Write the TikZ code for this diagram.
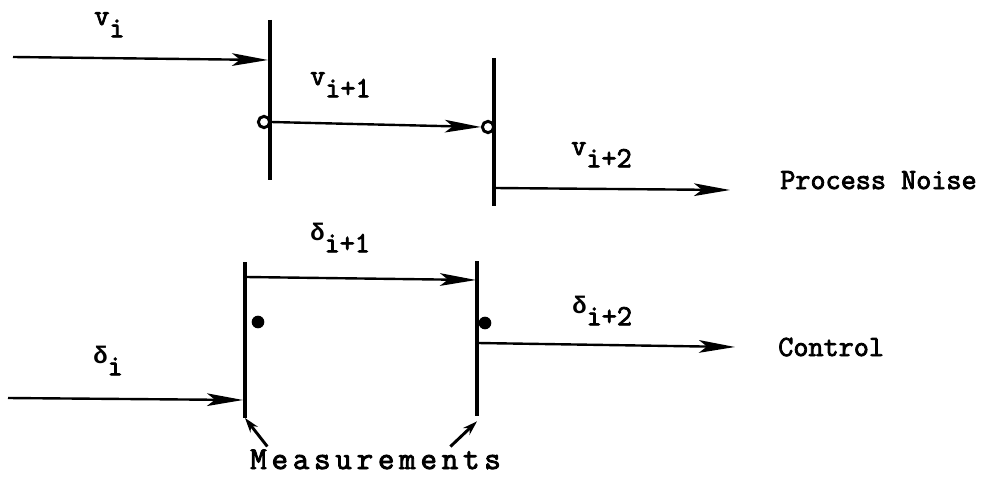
\documentclass[tikz,border=0pt]{standalone}
\usepackage{fontspec}
\newfontfamily\typer[FakeBold=2.8]{Latin Modern Mono}
\newfontfamily\typerwide[FakeBold=2.8,LetterSpace=15]{Latin Modern Mono}
\newfontfamily\greek{Liberation Mono}
\usetikzlibrary{
    arrows.meta,
    positioning
}
\newcommand{\dlt}{{\greek\bfseries\fontsize{18}{20}\selectfont δ}}

\begin{document}
\begin{tikzpicture}[
        x=0.75pt, y=-0.75pt,
        txt/.style={
            font=\typer\fontsize{22}{24}\selectfont,
            inner sep=0pt,
            anchor=base west
        },
        bar/.style={
            line width=3pt
        },
        line/.style={
            -{Stealth[length=27pt,width=9.5pt,inset=6pt]},
            line width=1.8pt
        },
        pointer/.style={
            -{Stealth[length=11pt,width=7pt]},
            line width=2.2pt
        },
        ring/.style={
            circle,
            draw,
            fill=white,
            line width=2.2pt,
            inner sep=0pt,
            minimum size=8.5pt
        },
        dot/.style={
            circle,
            fill,
            inner sep=0pt,
            minimum size=9.5pt
        }
    ]

    \useasboundingbox (0,0) rectangle (987,478);

    % measurement bars
    \coordinate (b1t) at (270,20);
    \coordinate (b1b) at (270,180);
    \coordinate (b2t) at (494,58);
    \coordinate (b2b) at (494,206);
    \coordinate (b3t) at (245,262);
    \coordinate (b3b) at (245,418);
    \coordinate (b4t) at (477,261);
    \coordinate (b4b) at (477,416);
    \draw[bar] (b1t) -- (b1b);
    \draw[bar] (b2t) -- (b2b);
    \draw[bar] (b3t) -- (b3b);
    \draw[bar] (b4t) -- (b4b);

    % process noise
    \coordinate (vin) at (13,57);
    \coordinate (vhit) at (268,60);
    \node[ring] (r1) at (264,122) {};
    \node[ring] (r2) at (488,127) {};
    \coordinate (vout) at (495,188);
    \coordinate (vend) at (730,190);

    \draw[line] (vin) -- (vhit);
    \draw[line] (r1.east) -- (r2.west);
    \draw[line] (vout) -- (vend);

    \node[txt] (vi) at (94,25) {v\raisebox{-0.42em}{i}};
    \node[txt] (vi1) at (310,85) {v\raisebox{-0.42em}{i+1}};
    \node[txt] (vi2) at (571,155) {v\raisebox{-0.42em}{i+2}};
    \node[txt] (noise) at (780,189) {Process Noise};

    % control
    \coordinate (din) at (8,398);
    \coordinate (dhit) at (243,400);
    \coordinate (dmid) at (246,277);
    \coordinate (dmhit) at (476,280);
    \coordinate (dout) at (478,343);
    \coordinate (dend) at (735,347);
    \node[dot] (d1) at (258,322) {};
    \node[dot] (d2) at (485,323) {};

    \draw[line] (din) -- (dhit);
    \draw[line] (dmid) -- (dmhit);
    \draw[line] (dout) -- (dend);

    \node[txt] (di) at (93,363) {\dlt\raisebox{-0.42em}{i}};
    \node[txt] (di1) at (310,240) {\dlt\raisebox{-0.42em}{i+1}};
    \node[txt] (di2) at (572,313) {\dlt\raisebox{-0.42em}{i+2}};
    \node[txt] (ctrl) at (778,356) {Control};

    % measurements
    \node[txt, font=\typerwide\fontsize{24}{26}\selectfont]
        (meas) at (250,469) {Measurements};
    \draw[pointer] ([xshift=13pt,yshift=2pt]meas.north west) -- (b3b);
    \draw[pointer] ([xshift=-38pt,yshift=2pt]meas.north east) -- ([yshift=-4pt]b4b);

\end{tikzpicture}
\end{document}
